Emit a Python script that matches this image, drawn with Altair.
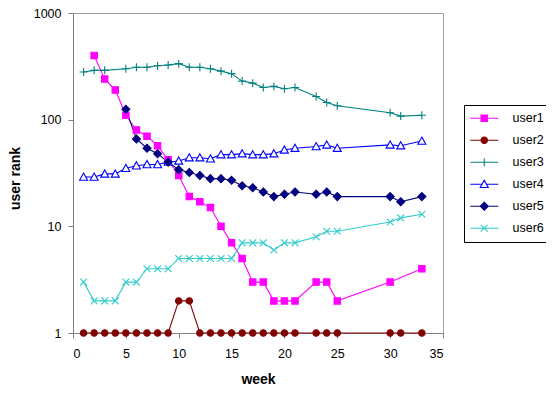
import altair as alt
import pandas as pd

series_names = ["user1", "user2", "user3", "user4", "user5", "user6"]

user1_weeks = [2, 3, 4, 5, 6, 7, 8, 9, 10, 11, 12, 13, 14, 15, 16, 17, 18, 19, 20, 21, 23, 24, 25, 30, 33]
user1_rank = [400, 240, 190, 110, 80, 70, 57, 42, 30, 19, 17, 15, 10, 7, 5, 3, 3, 2, 2, 2, 3, 3, 2, 3, 4]

user2_weeks = [1, 2, 3, 4, 5, 6, 7, 8, 9, 10, 11, 12, 13, 14, 15, 16, 17, 18, 19, 20, 21, 23, 24, 25, 30, 31, 33]
user2_rank = [1, 1, 1, 1, 1, 1, 1, 1, 1, 2, 2, 1, 1, 1, 1, 1, 1, 1, 1, 1, 1, 1, 1, 1, 1, 1, 1]

user3_weeks = [1, 2, 3, 5, 6, 7, 8, 9, 10, 11, 12, 13, 14, 15, 16, 17, 18, 19, 20, 21, 23, 24, 25, 30, 31, 33]
user3_rank = [280, 290, 290, 300, 310, 310, 320, 325, 335, 310, 310, 300, 285, 270, 230, 220, 200, 205, 195, 200, 165, 145, 135, 116, 108, 110]

user4_weeks = [1, 2, 3, 4, 5, 6, 7, 8, 9, 10, 11, 12, 13, 14, 15, 16, 17, 18, 19, 20, 21, 23, 24, 25, 30, 31, 33]
user4_rank = [29, 29, 31, 31, 35, 37, 38, 38, 40, 41, 44, 44, 43, 47, 47, 48, 47, 47, 48, 52, 54, 56, 58, 54, 58, 57, 63]

user5_weeks = [5, 6, 7, 8, 9, 10, 11, 12, 13, 14, 15, 16, 17, 18, 19, 20, 21, 23, 24, 25, 30, 31, 33]
user5_rank = [125, 66, 54, 48, 40, 34, 32, 30, 28, 28, 27, 24, 23, 21, 19, 20, 21, 20, 21, 19, 19, 17, 19]

user6_weeks = [1, 2, 3, 4, 5, 6, 7, 8, 9, 10, 11, 12, 13, 14, 15, 16, 17, 18, 19, 20, 21, 23, 24, 25, 30, 31, 33]
user6_rank = [3, 2, 2, 2, 3, 3, 4, 4, 4, 5, 5, 5, 5, 5, 5, 7, 7, 7, 6, 7, 7, 8, 9, 9, 11, 12, 13]

x_ticks = [0, 5, 10, 15, 20, 25, 30, 35]
y_ticks = [1, 10, 100, 1000]

stroke_colors = ["#FF00FF", "#800000", "#008080", "#0000FF", "#000080", "#33CCCC"]
fill_colors = ["#FF00FF", "#800000", "#008080", "#FFFFFF", "#000080", "#33CCCC"]

plot_shapes = [
    "M-0.8,-0.8L0.8,-0.8L0.8,0.8L-0.8,0.8Z",
    "M-0.8,0A0.8,0.8 0 1,1 0.8,0A0.8,0.8 0 1,1 -0.8,0Z",
    "M-1,0L1,0M0,-1L0,1",
    "M0,-1L1,0.8L-1,0.8Z",
    "M0,-1L1,0L0,1L-1,0Z",
    "M-0.85,-0.85L0.85,0.85M-0.85,0.85L0.85,-0.85",
]
legend_shapes = [
    "M-3.5,0L3.5,0M-0.8,-0.8L0.8,-0.8L0.8,0.8L-0.8,0.8Z",
    "M-3.5,0L3.5,0M-0.8,0A0.8,0.8 0 1,1 0.8,0A0.8,0.8 0 1,1 -0.8,0Z",
    "M-3.5,0L3.5,0M0,-1L0,1",
    "M-3.5,0L-0.55,0M0.55,0L3.5,0M0,-1L1,0.8L-1,0.8Z",
    "M-3.5,0L3.5,0M0,-1L1,0L0,1L-1,0Z",
    "M-3.5,0L3.5,0M-0.85,-0.85L0.85,0.85M-0.85,0.85L0.85,-0.85",
]

all_weeks = [user1_weeks, user2_weeks, user3_weeks, user4_weeks, user5_weeks, user6_weeks]
all_ranks = [user1_rank, user2_rank, user3_rank, user4_rank, user5_rank, user6_rank]
rows = []
for name, wk, rk in zip(series_names, all_weeks, all_ranks):
    for w, r in zip(wk, rk):
        rows.append({"series": name, "week": w, "rank": r})
df = pd.DataFrame(rows)

FONT = "Liberation Sans"

x_enc = alt.X("week:Q", scale=alt.Scale(domain=[0, 35], nice=False),
              axis=alt.Axis(values=x_ticks, title="week", titleX=185, titleY=46,
                            titleBaseline="middle", labelPadding=9))
y_enc = alt.Y("rank:Q", scale=alt.Scale(type="log", domain=[1, 1000], nice=False),
              axis=alt.Axis(values=y_ticks, format="d", title="user rank", titleX=-58,
                            titleY=165, titleBaseline="middle", titleAngle=-90, labelPadding=7))

stroke_scale = alt.Scale(domain=series_names, range=stroke_colors)
fill_scale = alt.Scale(domain=series_names, range=fill_colors)

base = alt.Chart(df)

lines = base.mark_line(strokeWidth=1.1).encode(
    x=x_enc, y=y_enc,
    stroke=alt.Stroke("series:N", scale=stroke_scale, legend=None),
    order="week:Q",
)

points = base.mark_point(size=64, strokeWidth=1.1, opacity=1).encode(
    x=x_enc, y=y_enc,
    stroke=alt.Stroke("series:N", scale=stroke_scale, legend=None),
    fill=alt.Fill("series:N", scale=fill_scale, legend=None),
    shape=alt.Shape("series:N", scale=alt.Scale(domain=series_names, range=plot_shapes), legend=None),
)

leg = alt.Legend(title=None, orient="none", legendX=391, legendY=92, padding=7,
                 strokeColor="#000000", symbolOffset=7, labelOffset=22, symbolSize=64,
                 rowPadding=9, symbolStrokeWidth=1.1, labelFontSize=12.5,
                 labelFont=FONT, labelColor="#000000", labelExpr="datum.label + '  '")

legend_layer = base.transform_filter("datum.week < 0").mark_point(size=64, strokeWidth=1.1, opacity=1).encode(
    x=x_enc, y=y_enc,
    stroke=alt.Stroke("series:N", scale=stroke_scale, legend=leg),
    fill=alt.Fill("series:N", scale=fill_scale, legend=leg),
    shape=alt.Shape("series:N", scale=alt.Scale(domain=series_names, range=legend_shapes), legend=leg),
)

chart = alt.layer(lines, points, legend_layer).resolve_scale(
    stroke="independent", fill="independent", shape="independent"
).properties(
    width=370, height=320,
    padding={"left": 65, "top": 5, "right": 103, "bottom": 53},
    autosize=alt.AutoSizeParams(type="none"),
).configure_view(
    stroke="#A0A0A0", strokeWidth=1
).configure_axis(
    grid=False, domainColor="#808080", tickColor="#808080", tickSize=5,
    labelFont=FONT, labelFontSize=12.5, labelColor="#000000",
    titleFont=FONT, titleFontSize=14, titleFontWeight="bold", titleColor="#000000",
)

chart.save("out.html", embed_options={"renderer": "svg", "actions": False})
